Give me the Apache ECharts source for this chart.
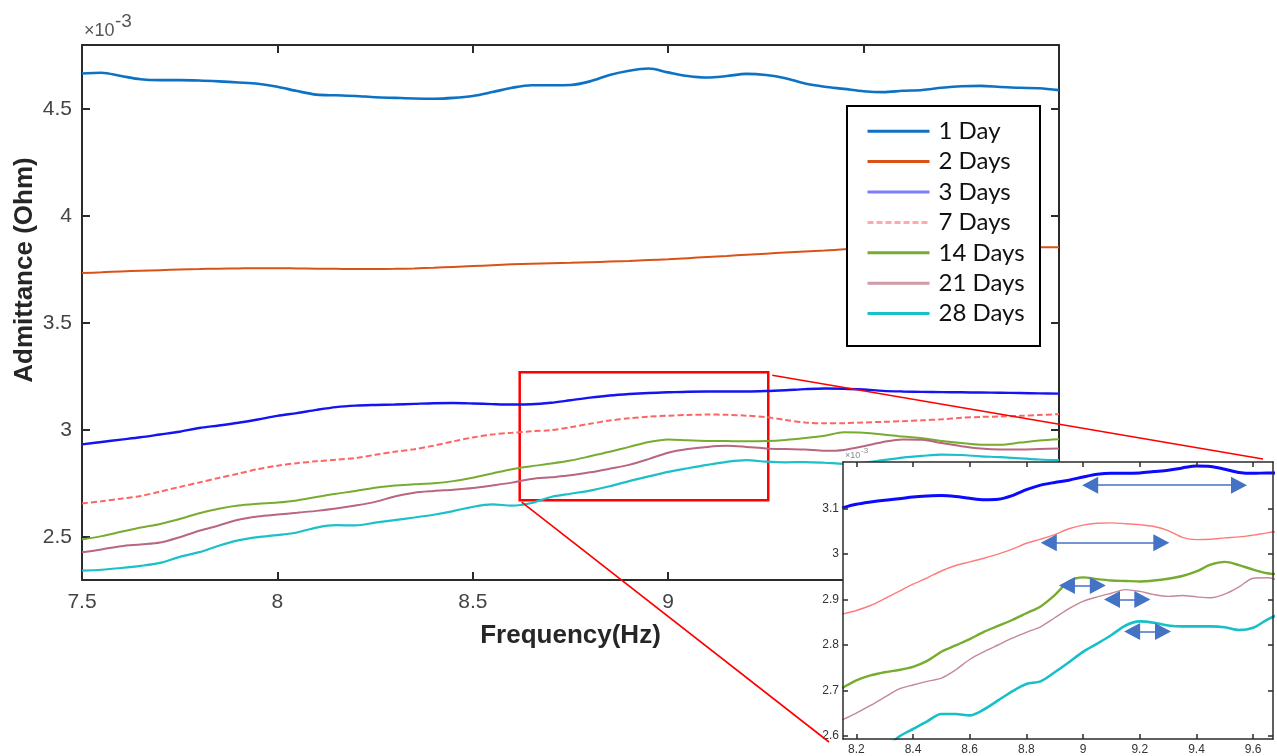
<!DOCTYPE html>
<html>
<head>
<meta charset="utf-8">
<script src="https://cdn.jsdelivr.net/npm/echarts@6/dist/echarts.min.js"></script>
<style>
  html, body { margin: 0; padding: 0; background: #ffffff; }
  #chart { width: 1277px; height: 756px; }
</style>
</head>
<body>
<div id="chart"></div>
<script>
// ---- Data (admittance in units of 1e-3) ----
const seriesNames = ['1 Day', '2 Days', '3 Days', '7 Days', '14 Days', '21 Days', '28 Days'];

const freqMain = [7.50, 7.55, 7.60, 7.65, 7.70, 7.75, 7.80, 7.85, 7.90, 7.95,
                  8.00, 8.05, 8.10, 8.15, 8.20, 8.25, 8.30, 8.35, 8.40, 8.45,
                  8.50, 8.55, 8.60, 8.65, 8.70, 8.75, 8.80, 8.85, 8.90, 8.95,
                  9.00, 9.05, 9.10, 9.15, 9.20, 9.25, 9.30, 9.35, 9.40, 9.45,
                  9.50, 9.55, 9.60, 9.65, 9.70, 9.75, 9.80, 9.85, 9.90, 9.95, 10.00];

const day1 = [4.667, 4.670, 4.655, 4.640, 4.636, 4.636, 4.634, 4.630, 4.625, 4.619,
              4.605, 4.585, 4.568, 4.565, 4.562, 4.556, 4.553, 4.550, 4.549, 4.553,
              4.562, 4.580, 4.600, 4.612, 4.612, 4.613, 4.630, 4.660, 4.680, 4.690,
              4.672, 4.655, 4.648, 4.655, 4.665, 4.660, 4.645, 4.620, 4.605, 4.595,
              4.584, 4.580, 4.586, 4.590, 4.600, 4.607, 4.609, 4.604, 4.600, 4.598, 4.589];

const day2 = [3.734, 3.738, 3.742, 3.745, 3.748, 3.751, 3.753, 3.755, 3.756, 3.757,
              3.757, 3.756, 3.755, 3.754, 3.753, 3.753, 3.754, 3.756, 3.759, 3.763,
              3.767, 3.771, 3.775, 3.778, 3.780, 3.782, 3.785, 3.788, 3.791, 3.795,
              3.799, 3.804, 3.809, 3.814, 3.820, 3.825, 3.830, 3.835, 3.840, 3.845,
              3.849, 3.852, 3.854, 3.855, 3.856, 3.856, 3.856, 3.856, 3.856, 3.855, 3.855];

const day3 = [2.934, 2.945, 2.956, 2.967, 2.980, 2.993, 3.010, 3.022, 3.035, 3.050,
              3.067, 3.080, 3.095, 3.108, 3.115, 3.118, 3.120, 3.123, 3.126, 3.127,
              3.125, 3.122, 3.120, 3.121, 3.128, 3.140, 3.152, 3.162, 3.169, 3.174,
              3.177, 3.180, 3.181, 3.181, 3.181, 3.183, 3.187, 3.192, 3.195, 3.194,
              3.190, 3.184, 3.181, 3.179, 3.178, 3.177, 3.176, 3.175, 3.174, 3.172, 3.171];

const day7 = [2.658, 2.668, 2.680, 2.693, 2.713, 2.735, 2.756, 2.777, 2.797, 2.818,
              2.834, 2.846, 2.855, 2.862, 2.870, 2.885, 2.899, 2.911, 2.928, 2.948,
              2.966, 2.980, 2.988, 2.995, 3.000, 3.014, 3.030, 3.045, 3.056, 3.063,
              3.068, 3.071, 3.073, 3.072, 3.068, 3.061, 3.048, 3.036, 3.032, 3.033,
              3.036, 3.039, 3.042, 3.046, 3.051, 3.058, 3.062, 3.064, 3.067, 3.071, 3.075];

const day14 = [2.489, 2.505, 2.525, 2.545, 2.562, 2.585, 2.612, 2.633, 2.648, 2.656,
               2.662, 2.672, 2.688, 2.703, 2.716, 2.731, 2.742, 2.747, 2.752, 2.762,
               2.778, 2.798, 2.818, 2.832, 2.844, 2.858, 2.878, 2.899, 2.922, 2.945,
               2.957, 2.953, 2.950, 2.949, 2.948, 2.949, 2.954, 2.963, 2.974, 2.990,
               2.988, 2.980, 2.970, 2.962, 2.950, 2.940, 2.932, 2.932, 2.942, 2.952, 2.958];

const day21 = [2.430, 2.443, 2.458, 2.466, 2.475, 2.500, 2.530, 2.555, 2.582, 2.597,
               2.606, 2.614, 2.623, 2.634, 2.648, 2.665, 2.690, 2.708, 2.716, 2.722,
               2.730, 2.742, 2.755, 2.772, 2.780, 2.789, 2.803, 2.820, 2.838, 2.865,
               2.895, 2.912, 2.922, 2.927, 2.922, 2.915, 2.912, 2.910, 2.904, 2.908,
               2.925, 2.945, 2.957, 2.955, 2.940, 2.925, 2.914, 2.910, 2.910, 2.912, 2.914];

const day28 = [2.344, 2.348, 2.356, 2.366, 2.380, 2.408, 2.430, 2.460, 2.485, 2.500,
               2.510, 2.522, 2.545, 2.556, 2.555, 2.568, 2.580, 2.592, 2.605, 2.622,
               2.642, 2.653, 2.648, 2.660, 2.688, 2.703, 2.718, 2.738, 2.762, 2.784,
               2.805, 2.822, 2.838, 2.852, 2.860, 2.853, 2.850, 2.851, 2.848, 2.843,
               2.848, 2.860, 2.872, 2.880, 2.886, 2.884, 2.878, 2.874, 2.868, 2.863, 2.860];

// Zoomed detail (inset)
const freqInset = [8.15, 8.20, 8.25, 8.30, 8.35, 8.40, 8.45, 8.50, 8.55, 8.60,
                   8.65, 8.70, 8.75, 8.80, 8.85, 8.90, 8.95, 9.00, 9.05, 9.10,
                   9.15, 9.20, 9.25, 9.30, 9.35, 9.40, 9.45, 9.50, 9.55, 9.60, 9.65, 9.70];

const inset3 = [3.102, 3.110, 3.115, 3.119, 3.122, 3.126, 3.128, 3.129, 3.127, 3.123,
                3.120, 3.121, 3.129, 3.142, 3.152, 3.158, 3.163, 3.170, 3.176, 3.178,
                3.178, 3.179, 3.182, 3.185, 3.190, 3.194, 3.193, 3.187, 3.180, 3.178, 3.179, 3.179];

const inset7 = [2.868, 2.876, 2.887, 2.902, 2.918, 2.934, 2.948, 2.963, 2.975, 2.983,
                2.991, 3.000, 3.011, 3.024, 3.033, 3.043, 3.056, 3.064, 3.068, 3.069,
                3.067, 3.065, 3.061, 3.052, 3.037, 3.032, 3.033, 3.036, 3.038, 3.042, 3.047, 3.051];

const inset14 = [2.705, 2.722, 2.733, 2.740, 2.745, 2.752, 2.765, 2.785, 2.799, 2.813,
                 2.829, 2.842, 2.855, 2.870, 2.885, 2.910, 2.940, 2.949, 2.945, 2.942,
                 2.941, 2.940, 2.942, 2.946, 2.952, 2.962, 2.977, 2.983, 2.976, 2.966, 2.958, 2.955];

const inset21 = [2.635, 2.650, 2.667, 2.685, 2.703, 2.712, 2.720, 2.727, 2.745, 2.768,
                 2.785, 2.800, 2.815, 2.828, 2.840, 2.860, 2.880, 2.896, 2.906, 2.914,
                 2.922, 2.918, 2.911, 2.907, 2.909, 2.906, 2.904, 2.912, 2.928, 2.947, 2.948, 2.940];

// 28 Days enters the inset window from below at about 8.3 Hz
const inset28 = [2.570, 2.598, 2.615, 2.632, 2.648, 2.648, 2.645, 2.658, 2.678,
                 2.698, 2.714, 2.720, 2.740, 2.762, 2.785, 2.803, 2.822, 2.843, 2.852,
                 2.849, 2.843, 2.841, 2.841, 2.841, 2.839, 2.833, 2.838, 2.856, 2.870];

// Tick labels
const mainYTicks = [2.5, 3, 3.5, 4, 4.5];
const insetXTicks = [8.2, 8.4, 8.6, 8.8, 9, 9.2, 9.4, 9.6];
const insetYTicks = [2.6, 2.7, 2.8, 2.9, 3, 3.1];

// Highlighted window on the main plot: [fmin, fmax], [ymin, ymax]
const zoomFreq = [8.62, 9.256];
const zoomAdm = [2.673, 3.271];

// Frequency-shift arrows in the inset: [fromHz, toHz, level]
const shiftArrows = [
  [9.025, 9.550, 3.152],
  [8.879, 9.276, 3.025],
  [8.943, 9.052, 2.931],
  [9.102, 9.209, 2.900],
  [9.173, 9.282, 2.830]
];

// ---- Styling ----
const colors = {
  '1 Day': '#0d72c4', '2 Days': '#d95319', '3 Days': '#1414f0', '7 Days': '#ff6464',
  '14 Days': '#77ac30', '21 Days': '#b8677f', '28 Days': '#1cc0c8'
};
const legendColors = {
  '1 Day': '#0d72c4', '2 Days': '#d95319', '3 Days': '#7c7cff', '7 Days': '#ffaaaa',
  '14 Days': '#77ac30', '21 Days': '#d09aa6', '28 Days': '#1cc0c8'
};
const axisColor = '#2b2b2b';
const tickFont = 'Liberation Sans, Arial, sans-serif';
const narrowFont = "'Liberation Sans Narrow', 'Arial Narrow', 'Liberation Sans', sans-serif";

const pair = (xs, ys) => ys.map((v, i) => [xs[i], v]);
const pairTail = (xs, ys) => {
  const off = xs.length - ys.length;
  return ys.map((v, i) => [xs[i + off], v]);
};

const mainValues = [day1, day2, day3, day7, day14, day21, day28];
const mainWidths = [2.6, 2, 2.4, 2, 2, 2, 2.2];

const series = [];
seriesNames.forEach((name, i) => {
  series.push({
    name: name,
    type: 'line',
    xAxisIndex: 0,
    yAxisIndex: 0,
    data: pair(freqMain, mainValues[i]),
    symbol: 'none',
    smooth: 0.3,
    clip: true,
    z: 2,
    lineStyle: {
      color: colors[name],
      width: mainWidths[i],
      type: name === '7 Days' ? [6, 3] : 'solid'
    },
    itemStyle: { color: colors[name] },
    emphasis: { disabled: true }
  });
});

// Red frame around the zoomed region
series[0].markArea = {
  silent: true,
  itemStyle: { color: 'rgba(0,0,0,0)', borderColor: '#ff0000', borderWidth: 2.5 },
  data: [[{ coord: [zoomFreq[0], zoomAdm[1]] }, { coord: [zoomFreq[1], zoomAdm[0]] }]]
};

const insetDefs = [
  { name: '3 Days', data: pair(freqInset, inset3), color: '#0a0aff', width: 3 },
  { name: '7 Days', data: pair(freqInset, inset7), color: '#ff7c7c', width: 1.4 },
  { name: '14 Days', data: pair(freqInset, inset14), color: '#77ac30', width: 2.4 },
  { name: '21 Days', data: pair(freqInset, inset21), color: '#c4889a', width: 1.4 },
  { name: '28 Days', data: pairTail(freqInset, inset28), color: '#17bfc9', width: 2.6 }
];
insetDefs.forEach((d) => {
  series.push({
    name: d.name,
    type: 'line',
    xAxisIndex: 2,
    yAxisIndex: 2,
    data: d.data,
    symbol: 'none',
    smooth: 0.3,
    clip: true,
    z: 4,
    lineStyle: { color: d.color, width: d.width },
    itemStyle: { color: d.color },
    emphasis: { disabled: true }
  });
});

// Double-headed arrows marking the shift of each curve
series[7].markLine = {
  silent: true,
  symbol: ['triangle', 'triangle'],
  symbolSize: [17, 16],
  label: { show: false },
  lineStyle: { color: '#4472c4', width: 1.5, type: 'solid' },
  itemStyle: { color: '#4472c4' },
  data: shiftArrows.map((a) => [{ coord: [a[0], a[2]] }, { coord: [a[1], a[2]] }])
};

const mainGrid = { left: 82, top: 45, width: 977, height: 535 };
const insetGrid = { left: 843, top: 462, width: 430, height: 277 };

const lineSty = { color: axisColor, width: 2 };
const insetLineSty = { color: axisColor, width: 1.5 };

const option = {
  animation: false,
  backgroundColor: '#ffffff',
  textStyle: { fontFamily: tickFont },
  grid: [
    Object.assign({ containLabel: false }, mainGrid),
    Object.assign({ containLabel: false }, insetGrid)
  ],
  legend: {
    orient: 'vertical',
    left: 866,
    top: 116,
    padding: 0,
    itemGap: 0,
    itemWidth: 62,
    itemHeight: 14,
    z: 4,
    selectedMode: false,
    textStyle: { fontFamily: 'Lato, "Open Sans", sans-serif', fontSize: 24, color: '#111111', lineHeight: 30.4,
                 padding: [0, 0, 0, 4] },
    data: seriesNames.map((n) => ({
      name: n,
      lineStyle: { color: legendColors[n], width: 3, type: n === '7 Days' ? [6, 3] : 'solid' },
      itemStyle: { color: 'rgba(0,0,0,0)', borderColor: 'rgba(0,0,0,0)', borderWidth: 0, opacity: 0 }
    }))
  },
  xAxis: [
    {
      gridIndex: 0, type: 'value', position: 'bottom', min: 7.5, max: 10, interval: 0.5,
      name: 'Frequency(Hz)', nameLocation: 'middle', nameGap: 43,
      nameTextStyle: { fontFamily: tickFont, fontSize: 26, fontWeight: 'bold', color: '#262626' },
      axisLine: { show: true, onZero: false, lineStyle: lineSty },
      axisTick: { show: true, inside: true, length: 8, lineStyle: lineSty },
      axisLabel: { fontSize: 21, color: '#444444', margin: 12, fontFamily: tickFont },
      splitLine: { show: false }
    },
    {
      gridIndex: 0, type: 'value', position: 'top', min: 7.5, max: 10, interval: 0.5,
      axisLine: { show: true, onZero: false, lineStyle: lineSty },
      axisTick: { show: true, inside: true, length: 8, lineStyle: lineSty },
      axisLabel: { show: false },
      splitLine: { show: false }
    },
    {
      gridIndex: 1, type: 'value', position: 'bottom', min: 8.153, max: 9.67, z: 5,
      axisLine: { show: true, onZero: false, lineStyle: insetLineSty },
      axisTick: { show: true, inside: true, length: 5, customValues: insetXTicks, lineStyle: insetLineSty },
      axisLabel: { fontSize: 12, color: '#333333', margin: 5, fontFamily: narrowFont, customValues: insetXTicks,
                   showMinLabel: true, showMaxLabel: true },
      splitLine: { show: false }
    },
    {
      gridIndex: 1, type: 'value', position: 'top', min: 8.153, max: 9.67, z: 5,
      axisLine: { show: true, onZero: false, lineStyle: insetLineSty },
      axisTick: { show: true, inside: true, length: 5, customValues: insetXTicks, lineStyle: insetLineSty },
      axisLabel: { show: false },
      splitLine: { show: false }
    }
  ],
  yAxis: [
    {
      gridIndex: 0, type: 'value', position: 'left', min: 2.3, max: 4.8,
      axisLine: { show: true, onZero: false, lineStyle: lineSty },
      axisTick: { show: true, inside: true, length: 8, customValues: mainYTicks, lineStyle: lineSty },
      axisLabel: { fontSize: 21, color: '#444444', margin: 10, fontFamily: tickFont, customValues: mainYTicks },
      splitLine: { show: false }
    },
    {
      gridIndex: 0, type: 'value', position: 'right', min: 2.3, max: 4.8,
      axisLine: { show: true, onZero: false, lineStyle: lineSty },
      axisTick: { show: true, inside: true, length: 8, customValues: mainYTicks, lineStyle: lineSty },
      axisLabel: { show: false },
      splitLine: { show: false }
    },
    {
      gridIndex: 1, type: 'value', position: 'left', min: 2.593, max: 3.203, z: 5,
      axisLine: { show: true, onZero: false, lineStyle: insetLineSty },
      axisTick: { show: true, inside: true, length: 5, customValues: insetYTicks, lineStyle: insetLineSty },
      axisLabel: { fontSize: 12, color: '#333333', margin: 4, fontFamily: narrowFont, customValues: insetYTicks },
      splitLine: { show: false }
    },
    {
      gridIndex: 1, type: 'value', position: 'right', min: 2.593, max: 3.203, z: 5,
      axisLine: { show: true, onZero: false, lineStyle: insetLineSty },
      axisTick: { show: true, inside: true, length: 5, customValues: insetYTicks, lineStyle: insetLineSty },
      axisLabel: { show: false },
      splitLine: { show: false }
    }
  ],
  series: series
};

const chart = echarts.init(document.getElementById('chart'), null, { renderer: 'canvas' });
chart.setOption(option);

// Overlay elements: legend frame, inset backdrop, exponent labels, axis title, connector lines
const frameTR = chart.convertToPixel({ gridIndex: 0 }, [zoomFreq[1], zoomAdm[1]]);
const frameBL = chart.convertToPixel({ gridIndex: 0 }, [zoomFreq[0], zoomAdm[0]]);
const insetRight = insetGrid.left + insetGrid.width;
const insetBottom = insetGrid.top + insetGrid.height;

chart.setOption({
  graphic: [
    {
      type: 'rect', id: 'legendFrame', z: 3, silent: true,
      shape: { x: 847, y: 106, width: 193, height: 240 },
      style: { fill: '#ffffff', stroke: '#000000', lineWidth: 2 }
    },
    {
      type: 'rect', id: 'insetBackdrop', z: 3, silent: true,
      shape: { x: insetGrid.left, y: insetGrid.top, width: 1277 - insetGrid.left, height: 756 - insetGrid.top },
      style: { fill: '#ffffff' }
    },
    {
      type: 'text', id: 'expBase', z: 6, silent: true, x: 84, y: 22,
      style: { text: '×10', font: '18px Liberation Sans, Arial, sans-serif', fill: '#555555' }
    },
    {
      type: 'text', id: 'expPow', z: 6, silent: true, x: 115, y: 12,
      style: { text: '-3', font: '19px Liberation Sans, Arial, sans-serif', fill: '#555555' }
    },
    {
      type: 'text', id: 'insetExpBase', z: 6, silent: true, x: 845, y: 451,
      style: { text: '×10', font: '9px Liberation Sans, Arial, sans-serif', fill: '#8a8a8a' }
    },
    {
      type: 'text', id: 'insetExpPow', z: 6, silent: true, x: 861, y: 447,
      style: { text: '-3', font: '8px Liberation Sans, Arial, sans-serif', fill: '#8a8a8a' }
    },
    {
      type: 'text', id: 'yTitle', z: 6, silent: true, x: 25, y: 270, rotation: Math.PI / 2,
      style: {
        text: 'Admittance (Ohm)', font: 'bold 26px Liberation Sans, Arial, sans-serif',
        fill: '#262626', align: 'center', verticalAlign: 'middle'
      }
    },
    {
      type: 'line', id: 'linkTop', z: 6, silent: true,
      shape: { x1: frameTR[0] + 4, y1: frameTR[1] + 3, x2: insetRight - 10, y2: insetGrid.top - 3 },
      style: { stroke: '#ff0000', lineWidth: 1.6 }
    },
    {
      type: 'line', id: 'linkBottom', z: 6, silent: true,
      shape: { x1: frameBL[0] + 2, y1: frameBL[1] + 2, x2: insetGrid.left - 14, y2: insetBottom + 3 },
      style: { stroke: '#ff0000', lineWidth: 1.6 }
    }
  ]
});
</script>
</body>
</html>
